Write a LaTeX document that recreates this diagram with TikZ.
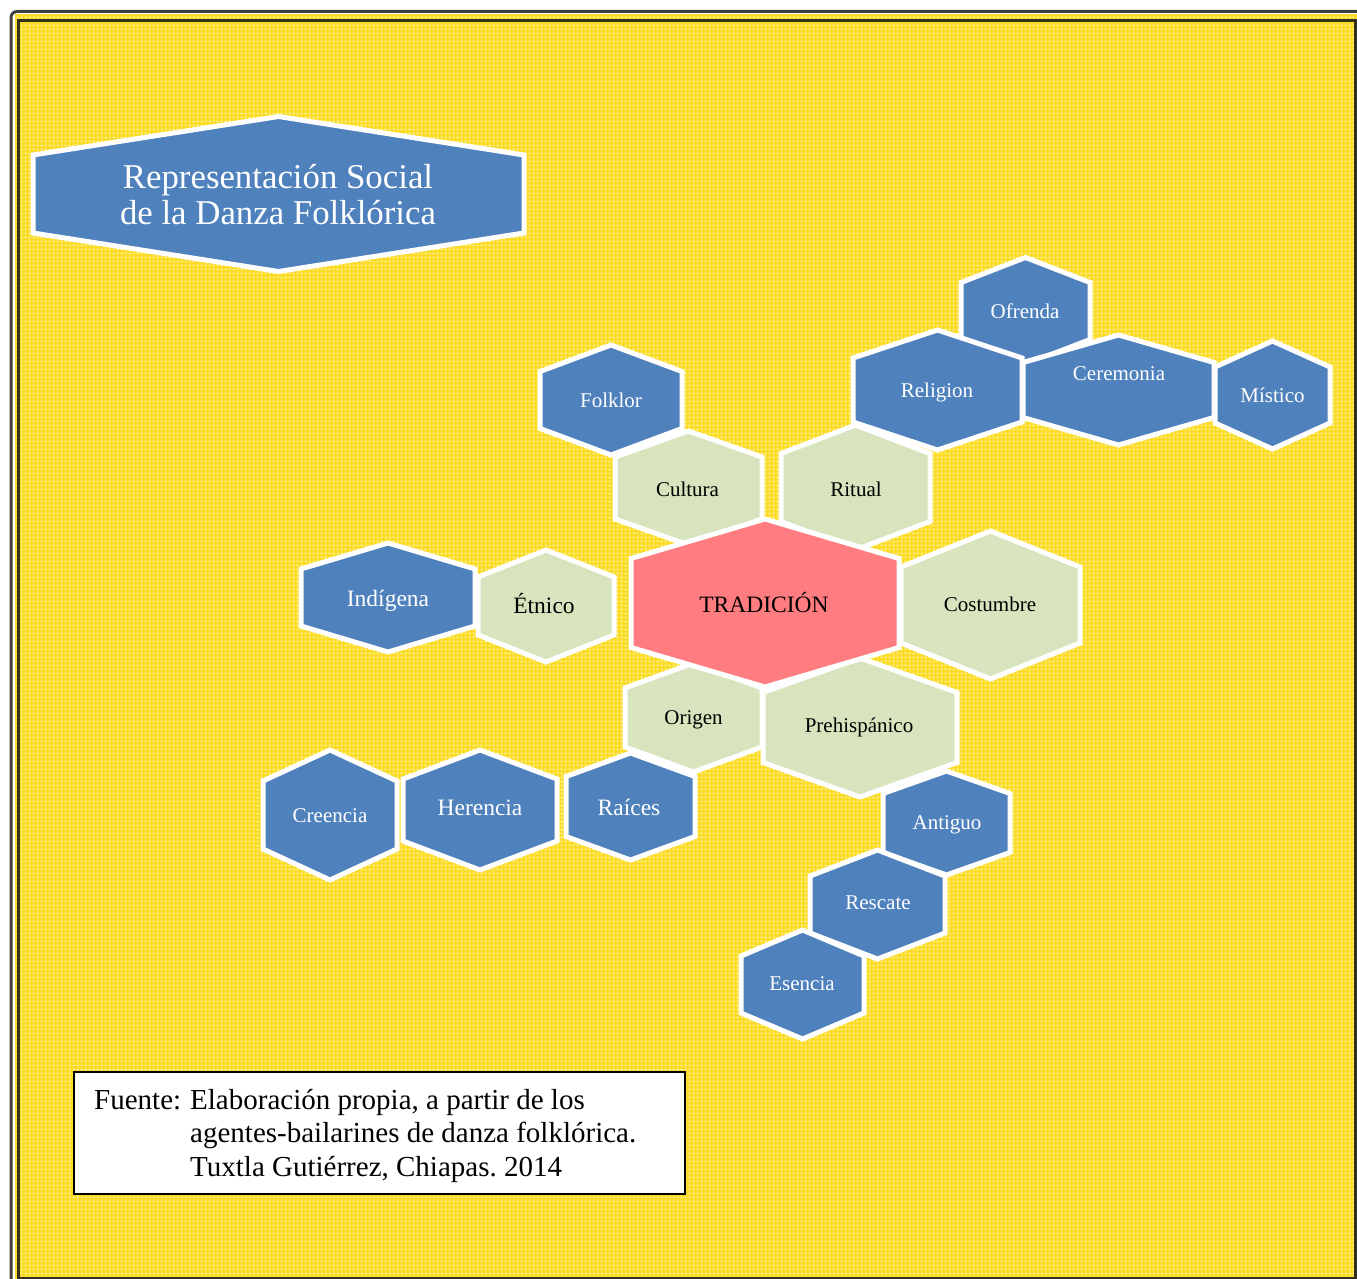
\documentclass[tikz,border=0pt]{standalone}
\usepackage{fontspec}
\setmainfont{Liberation Serif}
\frenchspacing
\usetikzlibrary{patterns.meta}
\definecolor{hexblue}{RGB}{79,129,189}
\definecolor{hexgreen}{RGB}{215,228,189}
\definecolor{hexpink}{RGB}{255,124,128}
\definecolor{ybase}{RGB}{251,220,38}
\definecolor{ydot}{RGB}{255,252,225}
\definecolor{outerframe}{RGB}{64,64,64}
\definecolor{innerframe}{RGB}{52,48,30}
\tikzdeclarepattern{
  name=ydots,
  type=uncolored,
  bottom left={(0pt,0pt)},
  top right={(4pt,4pt)},
  tile size={(4pt,4pt)},
  code={\fill (2pt,2pt) circle (1.1pt);}
}
\newcommand\hexshape[6]{%
  \filldraw[hexline,#1] ({#2},{#3-#5-2}) -- ({#2+#4+2},{#3-#6-1}) -- ({#2+#4+2},{#3+#6+1}) -- ({#2},{#3+#5+2}) -- ({#2-#4-2},{#3+#6+1}) -- ({#2-#4-2},{#3-#6-1}) -- cycle;}
\tikzset{
  hexline/.style={draw=white, line width=5pt, line join=miter},
  bluehex/.style={fill=hexblue},
  greenhex/.style={fill=hexgreen},
  pinkhex/.style={fill=hexpink},
  lbl/.style={inner sep=0pt, font=\fontsize{21}{25}\selectfont},
  lblbig/.style={inner sep=0pt, font=\fontsize{23.5}{27}\selectfont},
  wtxt/.style={text=white},
  btxt/.style={text=black},
  srctxt/.style={inner sep=0pt, anchor=base west, font=\fontsize{29}{33.5}\selectfont},
}
\begin{document}
\begin{tikzpicture}[x=1pt,y=-1pt]
\useasboundingbox (0,0) rectangle (1357,1279);
\clip (0,0) rectangle (1357,1279);
% frame and background
\draw[line width=3pt, draw=outerframe, rounded corners=6pt] (11,11.5) rectangle (1380,1300);
\fill[ybase] (14.5,14.5) rectangle (1360,1285);
\fill[pattern=ydots, pattern color=ydot] (14.5,14.5) rectangle (1360,1285);
\draw[line width=3pt, draw=innerframe] (18,20.5) rectangle (1355.5,1278.5);

% title
\hexshape{bluehex}{278.5}{194}{243.5}{75.5}{38}
\node[inner sep=0pt, text=white, align=center, font=\fontsize{34.8}{36}\selectfont] (title) at (278,195) {Representación Social\\de la Danza Folklórica};

% upper right cluster
\hexshape{bluehex}{1025.5}{311}{62.5}{51.5}{27.5}
\hexshape{bluehex}{937.5}{390}{82.5}{58}{31}
\hexshape{bluehex}{1118.5}{390}{93.5}{53}{26.5}
\hexshape{bluehex}{1272.5}{395}{55.5}{52}{27}
\node[lbl,wtxt] (ofrenda) at (1025,311.5) {Ofrenda};
\node[lbl,wtxt] (religion) at (937,392.5) {Religion};
\node[lbl,wtxt] (ceremonia) at (1119,374) {Ceremonia};
\node[lbl,wtxt] (mistico) at (1272.5,395) {Místico};

% folklor
\hexshape{bluehex}{611}{400}{69}{53}{27.5}
\node[lbl,wtxt] (folklor) at (611,400.5) {Folklor};

% green ring
\hexshape{greenhex}{688.5}{488}{71.5}{55}{30}
\hexshape{greenhex}{855.5}{487.5}{72.5}{60.5}{33}
\hexshape{greenhex}{546}{606}{66}{54}{28}
\hexshape{greenhex}{990.5}{605}{87.5}{72}{37}
\hexshape{greenhex}{693.5}{717.5}{66.5}{52.5}{28.5}
\hexshape{greenhex}{860}{727.5}{95}{67.5}{34}
\node[lbl,btxt] (cultura) at (687.5,489.5) {Cultura};
\node[lbl,btxt] (ritual) at (856,489.5) {Ritual};
\node[lblbig,btxt] (etnico) at (544,604) {Étnico};
\node[lbl,btxt] (costumbre) at (990,604.7) {Costumbre};
\node[lbl,btxt] (origen) at (693.5,720) {Origen};
\node[lbl,btxt] (prehispanico) at (859,727) {Prehispánico};

% centre
\hexshape{pinkhex}{765}{603}{132}{82}{43.5}
\node[lblbig,btxt] (tradicion) at (764,602.5) {TRADICIÓN};

% left
\hexshape{bluehex}{388}{597.5}{85}{52.5}{27.5}
\node[lblbig,wtxt] (indigena) at (388,600.5) {Indígena};

% lower left row
\hexshape{bluehex}{630.5}{806.5}{62.5}{51.5}{29}
\hexshape{bluehex}{480}{810}{75}{58}{30}
\hexshape{bluehex}{330}{815}{65}{63}{33}
\node[lblbig,wtxt] (raices) at (629,807) {Raíces};
\node[lblbig,wtxt] (herencia) at (480,808) {Herencia};
\node[lbl,wtxt] (creencia) at (330,815.8) {Creencia};

% lower right chain
\hexshape{bluehex}{946.5}{823}{61.5}{50}{28.5}
\hexshape{bluehex}{877.5}{904.5}{65.5}{52.5}{27.5}
\hexshape{bluehex}{802.5}{984.5}{59.5}{52.5}{27.5}
\node[lbl,wtxt] (antiguo) at (947,825) {Antiguo};
\node[lbl,wtxt] (rescate) at (878,902.8) {Rescate};
\node[lbl,wtxt] (esencia) at (802,983.8) {Esencia};

% source box
\node[draw=black, fill=white, line width=1.6pt, inner sep=0pt, minimum width=611pt, minimum height=122pt, anchor=north west] (srcbox) at (73,1071) {};
\node[srctxt] (src0) at (94,1109) {Fuente:};
\node[srctxt] (src1) at (190,1109) {Elaboración propia, a partir de los};
\node[srctxt] (src2) at (190,1142.5) {agentes-bailarines de danza folklórica.};
\node[srctxt] (src3) at (190,1176) {Tuxtla Gutiérrez, Chiapas. 2014};
\end{tikzpicture}
\end{document}
